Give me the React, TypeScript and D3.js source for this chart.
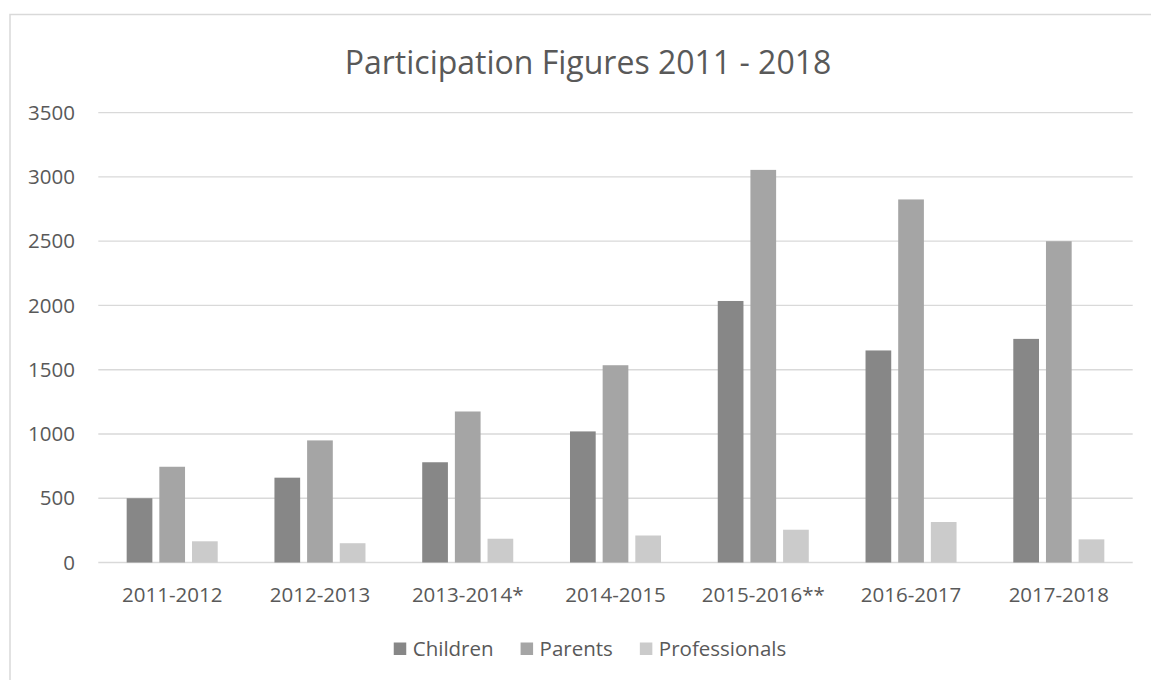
import React from "react";
import * as d3 from "d3";

const categories = ["2011-2012", "2012-2013", "2013-2014*", "2014-2015", "2015-2016**", "2016-2017", "2017-2018"];
const seriesNames = ["Children", "Parents", "Professionals"];
const children = [500, 660, 780, 1020, 2035, 1650, 1740];
const parents = [745, 950, 1175, 1535, 3055, 2825, 2500];
const professionals = [165, 150, 185, 210, 255, 315, 180];
const yTicks = [0, 500, 1000, 1500, 2000, 2500, 3000, 3500];
const colors = ["#878787", "#a5a5a5", "#cbcbcb"];

const W = 1151;
const H = 680;
const FONT = "'Open Sans', sans-serif";
const TEXT = "#595959";

function measure(text: string, size: number): number {
  if (typeof document === "undefined") return text.length * size * 0.55;
  const c = document.createElement("canvas");
  const ctx = c.getContext("2d");
  if (!ctx) return text.length * size * 0.55;
  ctx.font = `${size}px 'Open Sans'`;
  return ctx.measureText(text).width;
}

export default function App() {
  const values = [children, parents, professionals];
  const x0 = d3.scaleBand<string>().domain(categories).range([98.3, 1132.7]).paddingInner(0.384).paddingOuter(0.192);
  const x1 = d3.scaleBand<string>().domain(seriesNames).range([0, x0.bandwidth()]).paddingInner(0.213).paddingOuter(0);
  const y = d3.scaleLinear().domain([0, 3500]).range([562.5, 112.7]);

  const legendSize = 20.5;
  const sq = 12.5;
  const gapAfterSq = 6.5;
  const gapBetween = 27;
  const widths = seriesNames.map((n) => measure(n, legendSize));
  const total = widths.reduce((a, w) => a + sq + gapAfterSq + w, 0) + gapBetween * (seriesNames.length - 1);
  let lx = 590 - total / 2;
  const legendItems = seriesNames.map((n, i) => {
    const item = { name: n, x: lx, color: colors[i] };
    lx += sq + gapAfterSq + widths[i] + gapBetween;
    return item;
  });

  return (
    <svg width={W} height={H} style={{ position: "absolute", left: 0, top: 0, background: "#fff" }} fontFamily={FONT}>
      <rect x={0} y={0} width={W} height={H} fill="#fff" />
      <rect x={10} y={14.5} width={1300} height={800} fill="none" stroke="#d9d9d9" strokeWidth={1.5} />
      <text x={588} y={74} textAnchor="middle" fontSize={32} fill={TEXT}>
        Participation Figures 2011 - 2018
      </text>
      {yTicks.map((t) => (
        <g key={t}>
          <line x1={98.3} x2={1132.7} y1={y(t)} y2={y(t)} stroke="#d9d9d9" strokeWidth={1.3} />
          <text x={75} y={y(t)} dy="0.35em" textAnchor="end" fontSize={20.5} fill={TEXT}>
            {t}
          </text>
        </g>
      ))}
      {categories.map((c, ci) => (
        <g key={c} transform={`translate(${x0(c)},0)`}>
          {seriesNames.map((s, si) => (
            <rect
              key={s}
              x={x1(s)}
              y={y(values[si][ci])}
              width={x1.bandwidth()}
              height={y(0) - y(values[si][ci])}
              fill={colors[si]}
            />
          ))}
          <text x={x0.bandwidth() / 2} y={601.5} textAnchor="middle" fontSize={20.5} fill={TEXT}>
            {c}
          </text>
        </g>
      ))}
      {legendItems.map((it) => (
        <g key={it.name}>
          <rect x={it.x} y={642.5} width={sq} height={sq} fill={it.color} />
          <text x={it.x + sq + gapAfterSq} y={655.5} fontSize={legendSize} fill={TEXT}>
            {it.name}
          </text>
        </g>
      ))}
    </svg>
  );
}
